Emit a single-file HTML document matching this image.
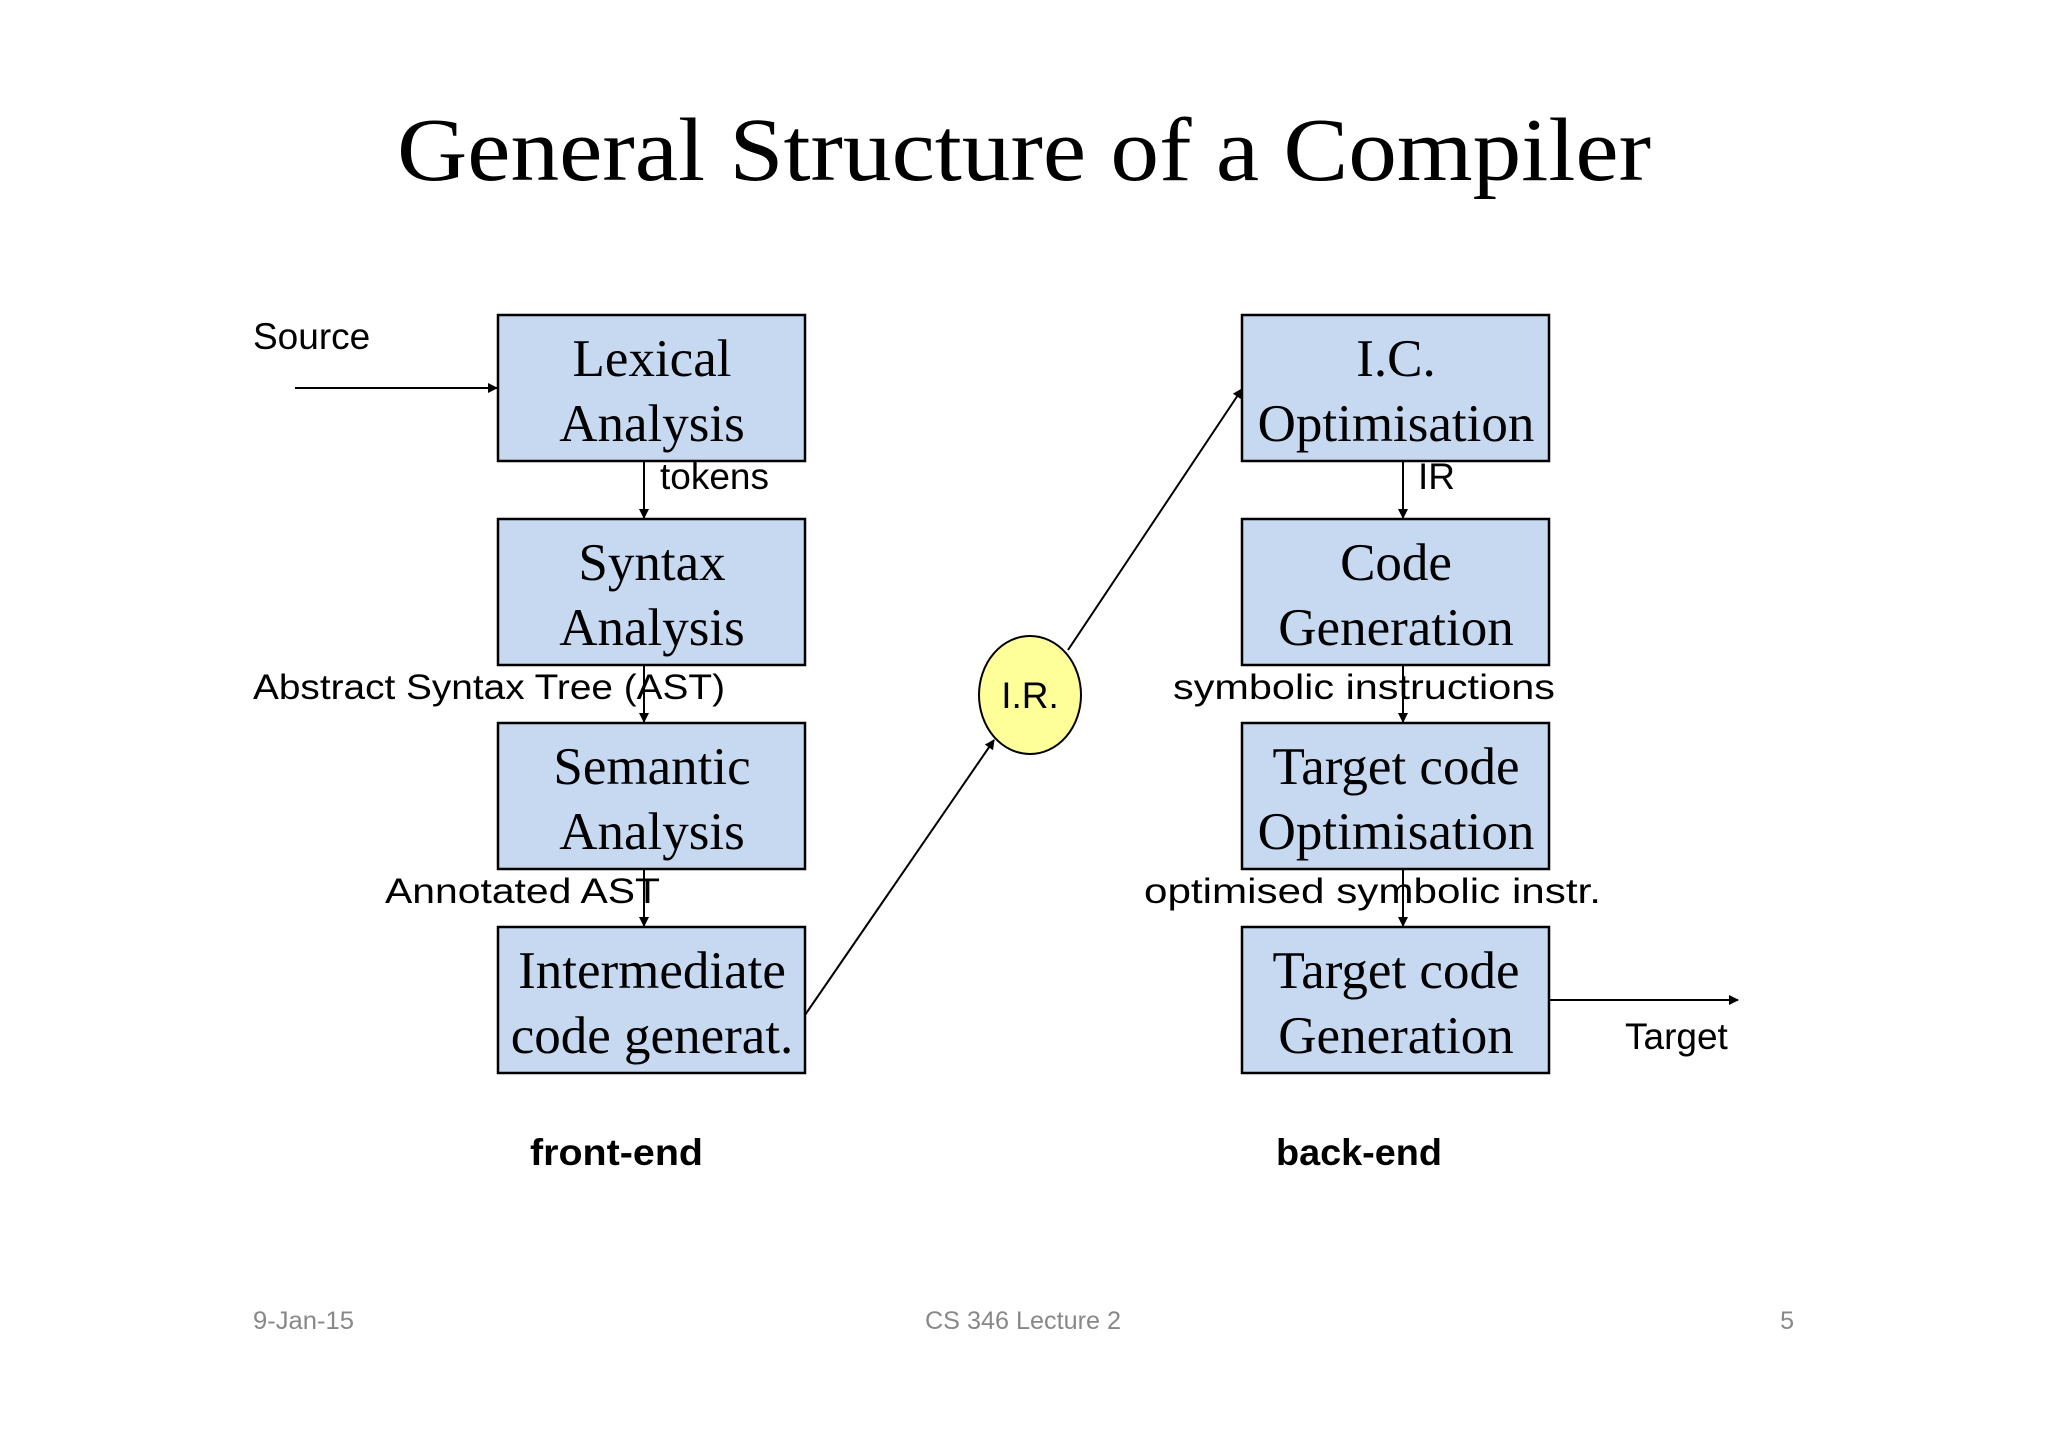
<!DOCTYPE html>
<html><head><meta charset="utf-8"><style>html,body{margin:0;padding:0;background:#fff}</style></head>
<body>
<svg width="2048" height="1447" viewBox="0 0 2048 1447" xmlns="http://www.w3.org/2000/svg">
<defs><marker id="a" markerWidth="10" markerHeight="10" refX="9" refY="5" orient="auto" markerUnits="userSpaceOnUse"><path d="M0,0 L10,5 L0,10 z" fill="#000"/></marker></defs>
<text x="1024" y="180" text-anchor="middle" font-family="Liberation Serif" font-size="90" textLength="1254" lengthAdjust="spacingAndGlyphs">General Structure of a Compiler</text>
<g fill="#c6d9f0" stroke="#000" stroke-width="2.5">
<rect x="498" y="315" width="307" height="146"/><rect x="498" y="519" width="307" height="146"/>
<rect x="498" y="723" width="307" height="146"/><rect x="498" y="927" width="307" height="146"/>
<rect x="1242" y="315" width="307" height="146"/><rect x="1242" y="519" width="307" height="146"/>
<rect x="1242" y="723" width="307" height="146"/><rect x="1242" y="927" width="307" height="146"/>
</g>
<g font-family="Liberation Serif" font-size="53" text-anchor="middle">
<text x="652" y="376">Lexical</text><text x="652" y="441">Analysis</text>
<text x="652" y="580">Syntax</text><text x="652" y="645">Analysis</text>
<text x="652" y="784">Semantic</text><text x="652" y="849">Analysis</text>
<text x="652" y="988">Intermediate</text><text x="652" y="1053">code generat.</text>
<text x="1396" y="376">I.C.</text><text x="1396" y="441">Optimisation</text>
<text x="1396" y="580">Code</text><text x="1396" y="645">Generation</text>
<text x="1396" y="784">Target code</text><text x="1396" y="849">Optimisation</text>
<text x="1396" y="988">Target code</text><text x="1396" y="1053">Generation</text>
</g>
<g stroke="#000" stroke-width="2" fill="none" marker-end="url(#a)">
<line x1="295" y1="388" x2="497" y2="388"/>
<line x1="644" y1="461" x2="644" y2="518"/><line x1="644" y1="665" x2="644" y2="722"/><line x1="644" y1="869" x2="644" y2="926"/>
<line x1="1403" y1="461" x2="1403" y2="518"/><line x1="1403" y1="665" x2="1403" y2="722"/><line x1="1403" y1="869" x2="1403" y2="926"/>
<line x1="805" y1="1015" x2="994" y2="740"/>
<line x1="1068" y1="650" x2="1242" y2="389"/>
<line x1="1549" y1="1000" x2="1738" y2="1000"/>
</g>
<ellipse cx="1030" cy="695" rx="51" ry="59" fill="#ffff99" stroke="#000" stroke-width="2"/>
<g font-family="Liberation Sans" font-size="37">
<text x="1030" y="708" text-anchor="middle">I.R.</text>
<text x="253" y="349">Source</text>
<text x="660" y="489">tokens</text>
<text x="1418" y="489">IR</text>
<text x="253" y="699" font-size="35" textLength="472" lengthAdjust="spacingAndGlyphs">Abstract Syntax  Tree (AST)</text>
<text x="385" y="903" font-size="35" textLength="275" lengthAdjust="spacingAndGlyphs">Annotated  AST</text>
<text x="1173" y="699" font-size="35" textLength="382" lengthAdjust="spacingAndGlyphs">symbolic  instructions</text>
<text x="1144" y="903" font-size="35" textLength="457" lengthAdjust="spacingAndGlyphs">optimised   symbolic instr.</text>
<text x="1625" y="1049">Target</text>
<text x="530" y="1165" font-weight="bold" textLength="173" lengthAdjust="spacingAndGlyphs">front-end</text>
<text x="1276" y="1165" font-weight="bold" textLength="166" lengthAdjust="spacingAndGlyphs">back-end</text>
</g>
<g font-family="Liberation Sans" font-size="25" fill="#888">
<text x="253" y="1329" textLength="101" lengthAdjust="spacingAndGlyphs">9-Jan-15</text>
<text x="1023" y="1329" text-anchor="middle" textLength="196" lengthAdjust="spacingAndGlyphs">CS 346 Lecture 2</text>
<text x="1794" y="1329" text-anchor="end">5</text>
</g>
</svg>
</body></html>
